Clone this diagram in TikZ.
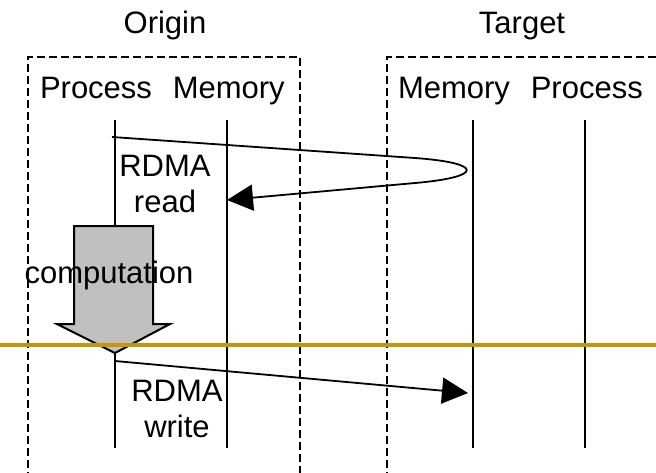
\documentclass[tikz,border=0pt]{standalone}
\usepackage{fontspec}
\setmainfont{Liberation Sans}
\usetikzlibrary{arrows.meta, positioning}

\definecolor{syncline}{RGB}{200,150,0}
\definecolor{compfill}{RGB}{192,192,192}

\tikzset{
    box/.style={draw, line width=1pt, dash pattern=on 4pt off 2pt},
    life/.style={draw, line width=1pt},
    msg/.style={draw, line width=0.9pt, ->},
    comp/.style={draw, fill=compfill, line width=1pt, line join=miter},
    sync/.style={draw=syncline, line width=2pt}
}

\begin{document}
\begin{tikzpicture}[x=0.5pt, y=-0.5pt, >={Triangle[length=13pt, width=13pt]},
    every node/.style={font=\fontsize{15.5}{18.25}\selectfont, inner sep=0pt}]
    \useasboundingbox (0,0) rectangle (656,472);

    % side boxes
    \draw[box] (28,480) |- (300,57) -- (300,480);
    \draw[box] (387,480) |- (665,57);

    % headers
    \node[anchor=base] (origin) at (165,33) {Origin};
    \node[anchor=base] (target) at (522,33) {Target};
    \node[anchor=base] (oproc) at (96,98) {Process};
    \node[base right=10pt of oproc] (omem) {Memory};
    \node[anchor=base] (tmem) at (454,98) {Memory};
    \node[base right=10pt of tmem] (tproc) {Process};

    % lifelines
    \foreach \n/\x in {op/115, om/227, tm/473, tp/585} {
        \coordinate (\n-top) at (\x,120);
        \coordinate (\n-bot) at (\x,448);
        \draw[life] (\n-top) -- (\n-bot);
    }

    % computation
    \draw[comp] (74,226) -- (153,226) -- (153,324) -- (170,324) -- (115,353)
        -- (57,324) -- (74,324) -- cycle;
    \node[anchor=base] (compute) at (109,283) {computation};

    \draw[sync] (0,345) -- (656,345);

    % RDMA read
    \coordinate (rd-start) at (112,137);
    \coordinate (rd-end) at (227,200);
    \draw[msg] (rd-start) -- (415,158) .. controls (484,163) and (484,177) .. (415,183) -- (rd-end);
    \node[align=center] (read) at (165,184) {RDMA\\read};

    % RDMA write
    \coordinate (wr-start) at (115,361);
    \coordinate (wr-end) at (468,393);
    \draw[msg] (wr-start) -- (wr-end);
    \node[align=center] (write) at (177,409) {RDMA\\write};
\end{tikzpicture}
\end{document}
